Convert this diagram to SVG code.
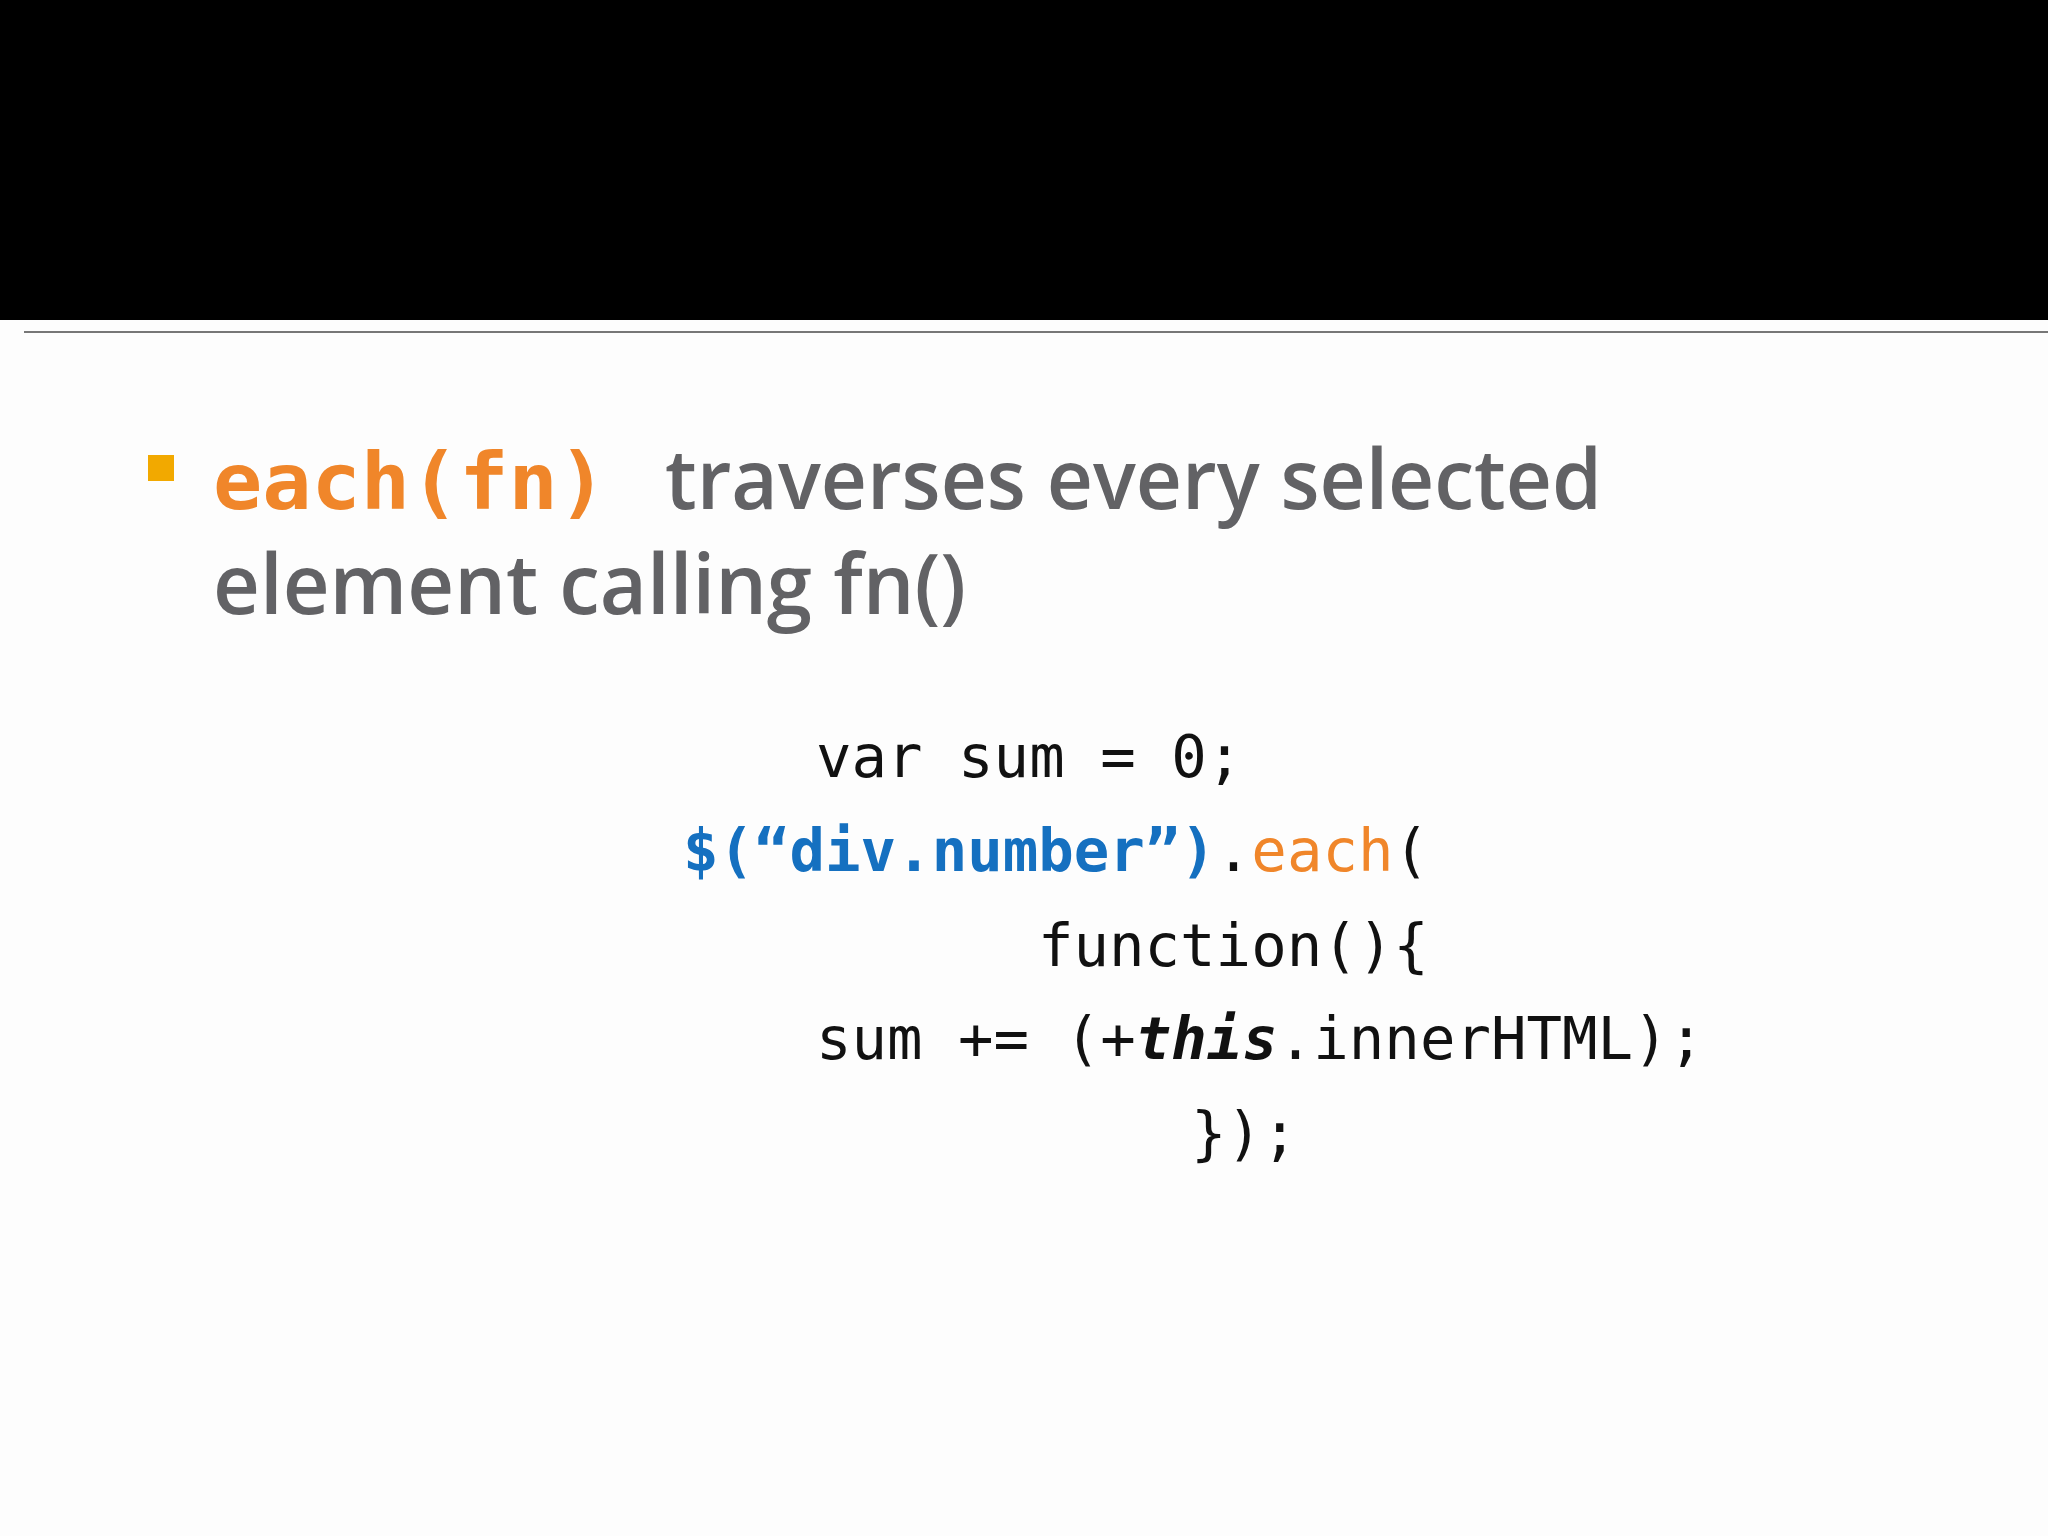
<svg xmlns="http://www.w3.org/2000/svg" width="2048" height="1536" viewBox="0 0 2048 1536">
<style>
.code{font-family:"DejaVu Sans Mono","Liberation Mono",monospace;font-size:59px;fill:#111}
.head{font-family:"Open Sans","Liberation Sans",sans-serif;font-size:84px;fill:#626265;font-weight:600}
.o{fill:#F0862A}.b{fill:#1570C0;font-weight:bold}
</style>
<rect width="2048" height="1536" fill="#fdfdfd"/>
<rect width="2048" height="320" fill="#000"/>
<line x1="24" y1="332" x2="2048" y2="332" stroke="#777" stroke-width="2"/>
<g id="title">
<rect x="148" y="455" width="26" height="26" fill="#F2A900"/>
<text x="213" y="509" font-family="DejaVu Sans Mono,Liberation Mono,monospace" font-weight="bold" font-size="78" fill="#F0862A" textLength="394" lengthAdjust="spacingAndGlyphs">each(fn)</text>
<text class="head" x="665" y="509" textLength="937" lengthAdjust="spacingAndGlyphs">traverses every selected</text>
<text class="head" x="213" y="614" textLength="753" lengthAdjust="spacingAndGlyphs">element calling fn()</text>
</g>
<g id="code">
<text class="code" x="816" y="777">var sum = 0;</text>
<text class="code" x="683" y="871"><tspan class="b">$(“div.number”)</tspan>.<tspan class="o">each</tspan>(</text>
<text class="code" x="1038" y="966">function(){</text>
<text class="code" x="816" y="1059">sum += (+<tspan font-weight="bold" font-style="italic">this</tspan>.innerHTML);</text>
<text class="code" x="1191" y="1154">});</text>
</g>
</svg>
